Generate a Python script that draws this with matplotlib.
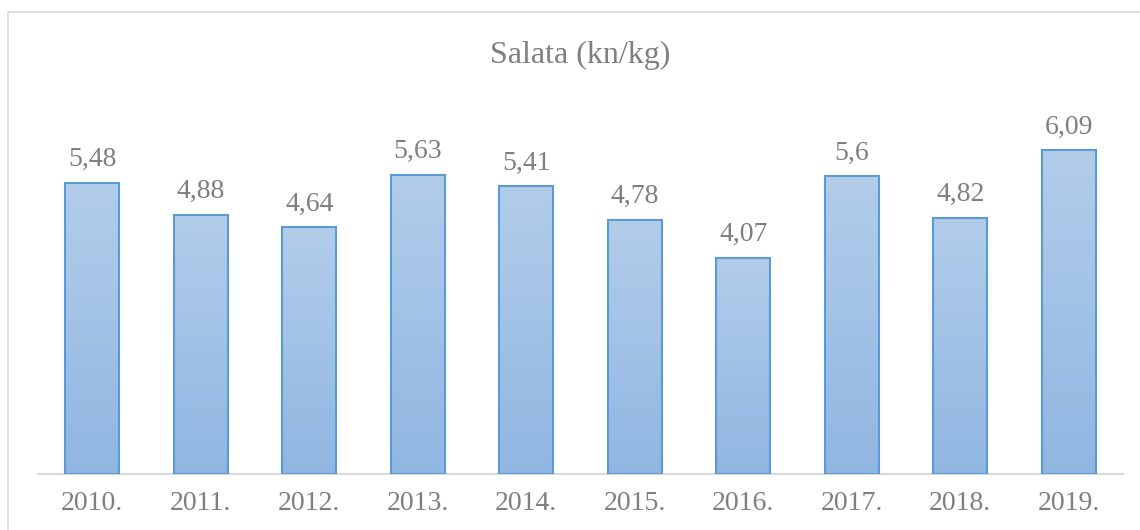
import matplotlib.pyplot as plt
from matplotlib.patches import Rectangle
import numpy as np

years = ["2010.", "2011.", "2012.", "2013.", "2014.", "2015.", "2016.", "2017.", "2018.", "2019."]
prices = [5.48, 4.88, 4.64, 5.63, 5.41, 4.78, 4.07, 5.6, 4.82, 6.09]
labels = ["5,48", "4,88", "4,64", "5,63", "5,41", "4,78", "4,07", "5,6", "4,82", "6,09"]

plt.rcParams['font.family'] = ['Liberation Serif', 'DejaVu Serif']
grey = "#7f7f7f"

fig = plt.figure(figsize=(11.4, 5.3), dpi=100)
# outer chart frame (left and top edges visible, rest runs off the picture)
fig.patches.append(Rectangle((8 / 1140, -0.05), 1.1, (530 - 12) / 530 + 0.05,
                             transform=fig.transFigure, fill=False,
                             edgecolor="#d9d9d9", linewidth=1.2))

ax = fig.add_axes([38 / 1140, 56 / 530, (1123 - 38) / 1140, (474 - 102) / 530])
x = np.arange(len(years))
bars = ax.bar(x, prices, width=0.5, facecolor="none", edgecolor="#5b9bd5",
              linewidth=1.5, zorder=3)

# vertical gradient inside each bar
grad = np.linspace(0, 1, 256).reshape(-1, 1)
cmap = plt.matplotlib.colors.LinearSegmentedColormap.from_list("g", ["#90b6e2", "#b2cdea"])
for b in bars:
    bx, by = b.get_x(), b.get_y()
    w, h = b.get_width(), b.get_height()
    im = ax.imshow(grad, extent=[bx, bx + w, by, by + h], origin="lower",
                   cmap=cmap, aspect="auto", zorder=2)
    im.set_clip_path(b)

for xi, v, lab in zip(x, prices, labels):
    ax.text(xi, v + 0.2, lab, ha="center", va="bottom", fontsize=20, color=grey)

ax.set_xlim(-0.5, len(years) - 0.5)
ax.set_ylim(0, 7)
ax.set_xticks(x)
ax.set_xticklabels(years, fontsize=20, color=grey)
ax.tick_params(axis="x", length=0, pad=12)
ax.set_yticks([])
for s in ["top", "right", "left"]:
    ax.spines[s].set_visible(False)
ax.spines["bottom"].set_color("#d9d9d9")
ax.spines["bottom"].set_linewidth(1.5)

fig.text(580 / 1140, 1 - 55 / 530, "Salata (kn/kg)", ha="center", va="center",
         fontsize=23, color=grey)

fig.savefig("out.png", dpi=100)
